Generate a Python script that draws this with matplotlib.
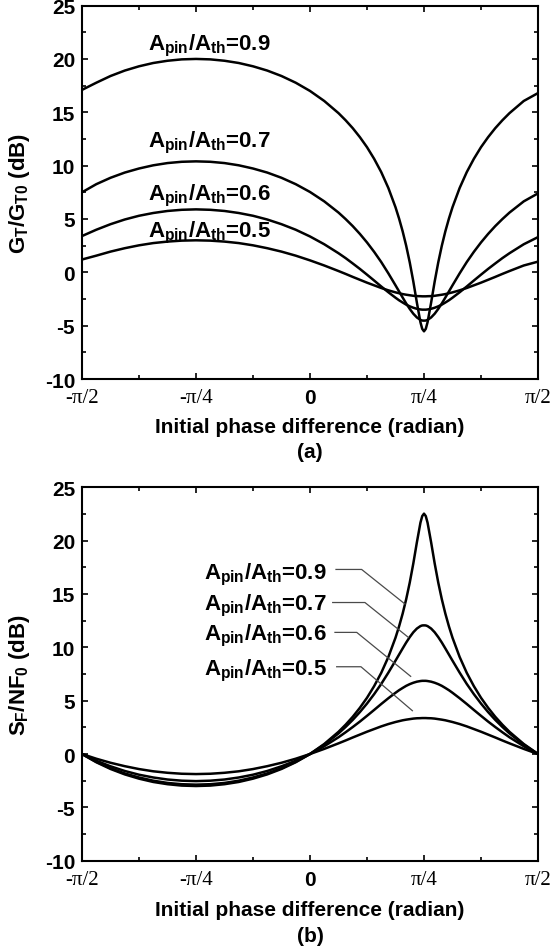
import numpy as np
import matplotlib
matplotlib.use("Agg")
import matplotlib.pyplot as plt
from matplotlib.ticker import MultipleLocator

plt.rcParams['font.family'] = ['Liberation Sans', 'DejaVu Sans']
plt.rcParams['font.weight'] = 'bold'
plt.rcParams['axes.unicode_minus'] = False
plt.rcParams['mathtext.fontset'] = 'custom'
plt.rcParams['mathtext.rm'] = 'Liberation Sans:bold'
plt.rcParams['mathtext.it'] = 'Liberation Sans:bold'
plt.rcParams['mathtext.bf'] = 'Liberation Sans:bold'
plt.rcParams['mathtext.sf'] = 'Liberation Sans:bold'

# ---------------- data ----------------
# initial phase difference, in units of pi/4
phase_q = [-2, -1.875, -1.75, -1.625, -1.5, -1.375, -1.25, -1.125, -1,
           -0.875, -0.75, -0.625, -0.5, -0.375, -0.25, -0.125, 0,
           0.125, 0.25, 0.3125, 0.375, 0.4375, 0.5, 0.5625, 0.625, 0.6875,
           0.75, 0.78125, 0.8125, 0.84375, 0.875, 0.90625, 0.9375, 0.96875,
           0.984375, 1,
           1.015625, 1.03125, 1.0625, 1.09375, 1.125, 1.15625, 1.1875,
           1.21875, 1.25, 1.3125, 1.375, 1.4375, 1.5, 1.5625, 1.625, 1.6875,
           1.75, 1.875, 2]

ratio_labels = ['0.9', '0.7', '0.6', '0.5']

# (a) G_T/G_T0 (dB)
gain_09 = [17.1, 17.77, 18.40, 18.91, 19.31, 19.62, 19.83, 19.96, 20.00,
           19.96, 19.83, 19.62, 19.31, 18.91, 18.40, 17.77, 17.00,
           16.06, 14.92, 14.25, 13.51, 12.67, 11.73, 10.64, 9.39, 7.90,
           6.10, 5.04, 3.85, 2.49, 0.93, -0.86, -2.84, -4.68, -5.30, -5.53,
           -5.30, -4.68, -2.84, -0.86, 0.93, 2.49, 3.85, 5.04, 6.10, 7.90,
           9.39, 10.64, 11.73, 12.67, 13.51, 14.25, 14.92, 16.06, 16.8]
gain_07 = [7.5, 8.26, 8.86, 9.35, 9.73, 10.03, 10.24, 10.36, 10.40,
           10.36, 10.24, 10.03, 9.73, 9.35, 8.86, 8.26, 7.53,
           6.65, 5.60, 4.99, 4.33, 3.60, 2.80, 1.92, 0.96, -0.10,
           -1.22, -1.79, -2.36, -2.92, -3.43, -3.88, -4.23, -4.46, -4.52, -4.53,
           -4.52, -4.46, -4.23, -3.88, -3.43, -2.92, -2.36, -1.79, -1.22, -0.10,
           0.96, 1.92, 2.80, 3.60, 4.33, 4.99, 5.60, 6.65, 7.4]
gain_06 = [3.4, 3.99, 4.51, 4.95, 5.30, 5.56, 5.75, 5.86, 5.90,
           5.86, 5.75, 5.56, 5.30, 4.95, 4.51, 3.99, 3.36,
           2.63, 1.79, 1.33, 0.83, 0.32, -0.22, -0.77, -1.33, -1.87,
           -2.38, -2.62, -2.83, -3.03, -3.19, -3.32, -3.42, -3.48, -3.50, -3.50,
           -3.50, -3.48, -3.42, -3.32, -3.19, -3.03, -2.83, -2.62, -2.38, -1.87,
           -1.33, -0.77, -0.22, 0.32, 0.83, 1.33, 1.79, 2.63, 3.3]
gain_05 = [1.2, 1.56, 1.94, 2.26, 2.53, 2.74, 2.88, 2.97, 3.00,
           2.97, 2.88, 2.74, 2.53, 2.26, 1.94, 1.56, 1.12,
           0.64, 0.12, -0.15, -0.43, -0.70, -0.97, -1.22, -1.47, -1.69,
           -1.88, -1.96, -2.04, -2.10, -2.15, -2.20, -2.23, -2.24, -2.25, -2.25,
           -2.25, -2.24, -2.23, -2.20, -2.15, -2.10, -2.04, -1.96, -1.88, -1.69,
           -1.47, -1.22, -0.97, -0.70, -0.43, -0.15, 0.12, 0.64, 1.0]

# (b) S_F/NF_0 (dB)
snr_09 = [0.0, -0.77, -1.40, -1.91, -2.31, -2.62, -2.83, -2.96, -3.00,
          -2.96, -2.83, -2.62, -2.31, -1.91, -1.40, -0.77, 0.0,
          0.94, 2.08, 2.75, 3.49, 4.33, 5.27, 6.36, 7.61, 9.10,
          10.90, 11.96, 13.15, 14.51, 16.07, 17.86, 19.84, 21.68, 22.30, 22.53,
          22.30, 21.68, 19.84, 17.86, 16.07, 14.51, 13.15, 11.96, 10.90, 9.10,
          7.61, 6.36, 5.27, 4.33, 3.49, 2.75, 2.08, 0.94, 0.0]
snr_07 = [0.0, -0.73, -1.33, -1.82, -2.20, -2.50, -2.71, -2.83, -2.87,
          -2.83, -2.71, -2.50, -2.20, -1.82, -1.33, -0.73, 0.0,
          0.88, 1.93, 2.54, 3.20, 3.93, 4.73, 5.61, 6.57, 7.63,
          8.75, 9.32, 9.89, 10.45, 10.96, 11.41, 11.76, 11.99, 12.05, 12.06,
          12.05, 11.99, 11.76, 11.41, 10.96, 10.45, 9.89, 9.32, 8.75, 7.63,
          6.57, 5.61, 4.73, 3.93, 3.20, 2.54, 1.93, 0.88, 0.0]
snr_06 = [0.0, -0.63, -1.15, -1.59, -1.94, -2.20, -2.39, -2.50, -2.54,
          -2.50, -2.39, -2.20, -1.94, -1.59, -1.15, -0.63, 0.0,
          0.73, 1.57, 2.04, 2.53, 3.04, 3.58, 4.13, 4.69, 5.23,
          5.74, 5.98, 6.19, 6.39, 6.55, 6.68, 6.78, 6.84, 6.86, 6.86,
          6.86, 6.84, 6.78, 6.68, 6.55, 6.39, 6.19, 5.98, 5.74, 5.23,
          4.69, 4.13, 3.58, 3.04, 2.53, 2.04, 1.57, 0.73, 0.0]
snr_05 = [0.0, -0.44, -0.82, -1.14, -1.41, -1.62, -1.76, -1.85, -1.88,
          -1.85, -1.76, -1.62, -1.41, -1.14, -0.82, -0.44, 0.0,
          0.48, 1.00, 1.27, 1.55, 1.82, 2.09, 2.34, 2.59, 2.81,
          3.00, 3.08, 3.16, 3.22, 3.27, 3.32, 3.35, 3.36, 3.37, 3.37,
          3.37, 3.36, 3.35, 3.32, 3.27, 3.22, 3.16, 3.08, 3.00, 2.81,
          2.59, 2.34, 2.09, 1.82, 1.55, 1.27, 1.00, 0.48, 0.0]

xtick_labels = ['-\u03c0/2', '-\u03c0/4', '0', '\u03c0/4', '\u03c0/2']
ytick_values = [-10, -5, 0, 5, 10, 15, 20, 25]

# ---------------- figure ----------------
W, H = 553, 953
fig = plt.figure(figsize=(W / 100, H / 100), dpi=100)
ax_left = 82 / W
ax_w = 456 / W
ax_h = 373.4 / H
ax1 = fig.add_axes([ax_left, 1 - 380 / H, ax_w, ax_h])
ax2 = fig.add_axes([ax_left, 1 - 861.7 / H, ax_w, ax_h])

q = np.pi / 4
x = np.array(phase_q) * q


def style(ax):
    ax.set_xlim(-2 * q, 2 * q)
    ax.set_ylim(-10, 25)
    ax.set_xticks([k * q for k in (-2, -1, 0, 1, 2)])
    ax.set_xticklabels(xtick_labels)
    ax.xaxis.set_minor_locator(MultipleLocator(q / 2))
    ax.set_yticks(ytick_values)
    ax.yaxis.set_minor_locator(MultipleLocator(2.5))
    ax.tick_params(which='both', direction='in', top=True, right=True,
                   width=1.2, color='black')
    ax.tick_params(which='major', length=4.5)
    ax.tick_params(which='minor', length=3.0)
    ax.tick_params(axis='y', labelsize=15, pad=5)
    ax.tick_params(axis='x', labelsize=15, pad=6.5)
    for lab in ax.get_yticklabels():
        lab.set_fontweight('bold')
    for lab in ax.get_xticklabels():
        if lab.get_text() == '0':
            lab.set_fontfamily('Liberation Sans')
            lab.set_fontweight('bold')
        else:
            lab.set_fontfamily('Liberation Serif')
            lab.set_fontweight('normal')
    for sp in ax.spines.values():
        sp.set_linewidth(1.5)


for ax in (ax1, ax2):
    style(ax)

lw = 1.8
for g in (gain_09, gain_07, gain_06, gain_05):
    ax1.plot(x, g, color='black', lw=lw, solid_joinstyle='round')
for s in (snr_09, snr_07, snr_06, snr_05):
    ax2.plot(x, s, color='black', lw=lw, solid_joinstyle='round')

# annotations panel (a)
top_base = [20.9, 11.8, 6.8, 3.35]
for r, yb in zip(ratio_labels, top_base):
    ax1.text(-1.425 * q, yb, r'$A_{pin}/A_{th}$=' + r, fontsize=16,
             fontweight='bold', ha='left', va='baseline')

# annotations panel (b)
bot_base = [16.5, 13.6, 10.7, 7.47]
for r, yb in zip(ratio_labels, bot_base):
    ax2.text(-0.93 * q, yb, r'$A_{pin}/A_{th}$=' + r, fontsize=16,
             fontweight='bold', ha='left', va='baseline')

leaders = [([0.228, 0.453, 0.833], [17.3, 17.3, 14.06]),
           ([0.199, 0.482, 0.862], [14.2, 14.2, 10.94]),
           ([0.219, 0.410, 0.883], [11.4, 11.4, 7.28]),
           ([0.234, 0.447, 0.898], [8.18, 8.18, 4.06])]
for lx, ly in leaders:
    ax2.plot(np.array(lx) * q, ly, color='#4a4a4a', lw=0.9)

ax1.set_ylabel(r'$G_T/G_{T0}$ (dB)', fontsize=16, fontweight='bold', va='center')
ax2.set_ylabel(r'$S_F/NF_0$ (dB)', fontsize=16, fontweight='bold', va='center')
ax1.yaxis.set_label_coords(-0.137, 0.5)
ax2.yaxis.set_label_coords(-0.137, 0.5)

for ax, ycen, tag, ytag in ((ax1, -0.128, '(a)', -0.193),
                            (ax2, -0.131, '(b)', -0.201)):
    ax.set_xlabel('Initial phase difference (radian)', fontsize=15,
                  fontweight='bold', va='center')
    ax.xaxis.set_label_coords(0.5, ycen)
    ax.text(0.5, ytag, tag, transform=ax.transAxes, fontsize=15,
            fontweight='bold', ha='center', va='center')

fig.savefig('out.png', dpi=100)
